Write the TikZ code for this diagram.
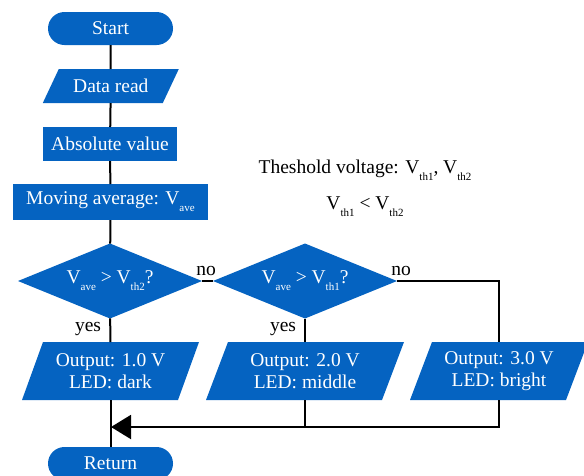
\documentclass[tikz,border=0pt]{standalone}
\usepackage{fontspec}
\setmainfont{Liberation Serif}
\usetikzlibrary{shapes.geometric,arrows.meta}
\definecolor{fcblue}{RGB}{5,99,193}
\newcommand\sbx[1]{\raisebox{-7pt}{\fontsize{11}{11}\selectfont #1}}
% name, x, y, width at mid-height, height, slant, text
\newcommand\iobox[7]{%
  \fill[fcblue] ({#2-#4/2-#6/2},{#3+#5/2}) -- ({#2+#4/2-#6/2},{#3+#5/2})
     -- ({#2+#4/2+#6/2},{#3-#5/2}) -- ({#2-#4/2+#6/2},{#3-#5/2}) -- cycle;
  \node[txt, minimum width=#4pt, minimum height=#5pt] (#1) at (#2,#3) {#7};}
\begin{document}
\begin{tikzpicture}[x=1pt,y=-1pt,
  font=\fontsize{19.5}{22}\selectfont,
  line width=2pt,
  txt/.style={text=white, inner sep=0pt, outer sep=0pt, align=center},
  base/.style={txt, fill=fcblue},
  pill/.style={base, rounded corners=16.5pt, minimum width=125pt, minimum height=33pt},
  boxnode/.style={base, minimum height=34pt},
  dec/.style={base, diamond, aspect=2.45, inner sep=0pt, minimum width=184pt, minimum height=75pt},
  lbl/.style={text=black, inner sep=0pt, outer sep=0pt},
  conn/.style={draw=black, line width=2pt},
  bigarrow/.style={-{Triangle[length=20pt,width=24pt]}}
]
\useasboundingbox (0,0) rectangle (584,475);

\node[pill] (start) at (110.5,28.5) {Start};
\iobox{read}{110.8}{86}{120}{34}{16}{Data read}
\node[boxnode, minimum width=134pt] (abs) at (110,144) {Absolute value};
\node[boxnode, minimum width=195pt, minimum height=36pt] (mov) at (110.5,202) {Moving average: V\sbx{ave}};
\node[dec] (d1) at (110,281) {V\sbx{ave} > V\sbx{th2}?};
\node[dec] (d2) at (305,281) {V\sbx{ave} > V\sbx{th1}?};
\iobox{o1}{110.5}{371}{156}{58}{21}{Output: 1.0 V\\LED: dark}
\iobox{o2}{305}{371}{176}{58}{22}{Output: 2.0 V\\LED: middle}
\iobox{o3}{499}{371}{156}{58}{22}{Output: 3.0 V\\LED: bright}
\node[pill] (ret) at (110.5,463.5) {Return};

\node[lbl, anchor=base] (th) at (365,173) {Theshold voltage: V\sbx{th1}, V\sbx{th2}};
\node[lbl, anchor=base] (rel) at (365,209) {V\sbx{th1} < V\sbx{th2}};

\coordinate (c3) at (499,427);
\coordinate (c2) at (305,427);
\coordinate (c1) at (111,427);

\draw[conn] (start) -- (read);
\draw[conn] (read) -- (abs);
\draw[conn] (abs) -- (mov);
\draw[conn] (mov) -- (d1);
\draw[conn] (d1) -- (o1);
\draw[conn] (d1) -- (d2);
\draw[conn] (d2) -- (o2);
\draw[conn] (d2.east) -| (o3.north);
\draw[conn] (o1) -- (ret);
\draw[conn] (o2.south) -- (c2);
\draw[conn] (o3.south) -- (c3) -- (c2);
\draw[conn, bigarrow] (c2) -- (c1);

\node[lbl, anchor=base] (no1) at (206,275) {no};
\node[lbl, anchor=base] (no2) at (401,275) {no};
\node[lbl, anchor=base east] (yes1) at (101,331) {yes};
\node[lbl, anchor=base east] (yes2) at (296,331) {yes};
\end{tikzpicture}
\end{document}
